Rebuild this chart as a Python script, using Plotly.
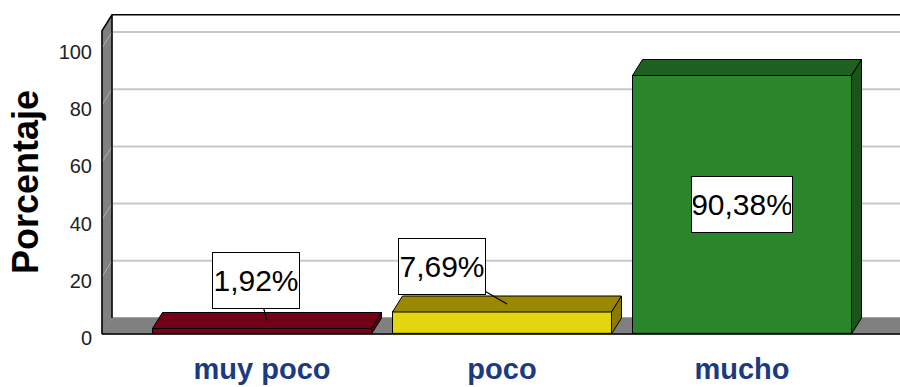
import plotly.graph_objects as go

# ---------------- data ----------------
categories = ["muy poco", "poco", "mucho"]
percentages = [1.92, 7.69, 90.38]
value_labels = ["1,92%", "7,69%", "90,38%"]
y_tick_values = [0, 20, 40, 60, 80, 100]
y_tick_labels = ["0", "20", "40", "60", "80", "100"]

front_colors = ["#7b0019", "#e3d60f", "#2b862b"]
top_colors = ["#720017", "#9a8900", "#1f5f1f"]
side_colors = ["#5c0012", "#8a7b00", "#1b531b"]

# ---------------- geometry (pixels) ----------------
W, H = 900, 387
X0 = 102          # front-left edge of the floor
Y0 = 334          # front baseline
S = 2.86          # px per percentage unit
CAT_PX = 240      # px per category
C0 = 262          # px centre of first category
DX_PX, DY_PX = 10, 16   # depth offset
YMAX = 106
BAR_W = 0.9125

dx = DX_PX / CAT_PX
dy = DY_PX / S
y_top_px = Y0 - YMAX * S

def px(x):
    return x / W

def py(y):
    return 1 - y / H

fig = go.Figure()

# front faces
fig.add_trace(go.Bar(
    x=list(range(len(categories))), y=percentages, width=BAR_W,
    marker=dict(color=front_colors, line=dict(color="black", width=1)),
    hoverinfo="skip", showlegend=False,
))

# top & side faces derived from values
for i, v in enumerate(percentages):
    l, r = i - BAR_W / 2, i + BAR_W / 2
    fig.add_trace(go.Scatter(
        x=[l, l + dx, r + dx, r, l], y=[v, v + dy, v + dy, v, v],
        mode="lines", fill="toself", fillcolor=top_colors[i],
        line=dict(color="black", width=1), hoverinfo="skip", showlegend=False,
    ))
    fig.add_trace(go.Scatter(
        x=[r, r + dx, r + dx, r, r], y=[0, dy, v + dy, v, 0],
        mode="lines", fill="toself", fillcolor=side_colors[i],
        line=dict(color="black", width=1), hoverinfo="skip", showlegend=False,
    ))

# ---------------- walls / floor / grid (shapes) ----------------
shapes = []
def path(points, fill=None, line_color="black", width=1, closed=True):
    d = "M " + " L ".join(f"{px(a):.5f},{py(b):.5f}" for a, b in points)
    if closed:
        d += " Z"
    s = dict(type="path", path=d, xref="paper", yref="paper", layer="below",
             line=dict(color=line_color, width=width))
    if fill:
        s["fillcolor"] = fill
    return s

back_base = Y0 - DY_PX
back_left = X0 + DX_PX
# left wall
shapes.append(path([(X0, Y0), (X0, y_top_px), (back_left, y_top_px - DY_PX), (back_left, back_base)],
                   fill="#808080", line_color="#808080"))
# grid lines on back wall and left wall
for t in y_tick_values:
    yb = back_base - t * S
    yf = Y0 - t * S
    shapes.append(path([(back_left, yb), (W, yb)], line_color="#c8c8c8", width=2, closed=False))
    shapes.append(path([(X0, yf), (back_left, yb)], line_color="#b0b0b0", width=1, closed=False))
# floor
shapes.append(path([(X0, Y0), (back_left, back_base), (W, back_base), (W, Y0)],
                   fill="#808080", line_color="#808080"))
# edges
shapes.append(path([(X0, Y0), (X0, y_top_px), (back_left, y_top_px - DY_PX), (W, y_top_px - DY_PX)],
                   closed=False, width=1.5))
shapes.append(path([(back_left, y_top_px - DY_PX), (back_left, back_base)], closed=False, width=1.5))
shapes.append(path([(X0, Y0), (W, Y0)], closed=False, width=1.5))

# ---------------- annotations ----------------
FONT = "Liberation Sans Narrow, Arial Narrow, Liberation Sans, Arial"
annotations = []
label_offsets = [(-11, -40), (-65, -38), None]
label_boxes = [(84, 53), (84, 53), (98, 53)]
for i, (v, txt) in enumerate(zip(percentages, value_labels)):
    common = dict(text=txt, font=dict(family=FONT, size=30, color="black"),
                  bgcolor="white", bordercolor="black", borderwidth=1, borderpad=1,
                  width=label_boxes[i][0], height=label_boxes[i][1],
                  xref="x", yref="y", xanchor="center", yanchor="middle")
    off = label_offsets[i]
    if off is None:
        annotations.append(dict(x=i, y=v / 2, showarrow=False, **common))
    else:
        annotations.append(dict(x=i + dx / 2, y=v + dy / 2, showarrow=True, arrowhead=0,
                                arrowwidth=1.2, arrowcolor="black", ax=off[0], ay=off[1],
                                **common))
annotations.append(dict(text="<b>Porcentaje</b>", textangle=-90, x=px(25), y=py(182),
                        xref="paper", yref="paper", showarrow=False,
                        xanchor="center", yanchor="middle",
                        font=dict(family="Liberation Sans, Arial", size=36, color="black")))

fig.update_layout(
    width=W, height=H, margin=dict(l=0, r=0, t=0, b=0),
    paper_bgcolor="white", plot_bgcolor="rgba(0,0,0,0)",
    shapes=shapes, annotations=annotations, bargap=0,
    xaxis=dict(domain=[px(X0), 1], range=[-(C0 - X0) / CAT_PX, (W - C0) / CAT_PX],
               tickvals=list(range(len(categories))),
               ticktext=[f"<b>{c}</b>" for c in categories],
               tickfont=dict(family=FONT, size=29, color="#1b3a82"),
               showgrid=False, zeroline=False, showline=False, ticks="",
               ticklabelstandoff=15, automargin=False, fixedrange=True),
    yaxis=dict(domain=[py(Y0), py(y_top_px)], range=[0, YMAX],
               tickvals=y_tick_values, ticktext=y_tick_labels,
               tickfont=dict(family=FONT, size=20, color="#222222"),
               showgrid=False, zeroline=False, showline=False, ticks="",
               ticklabelstandoff=9, ticklabelshift=4, automargin=False, fixedrange=True),
)

fig.write_html("out.html")
